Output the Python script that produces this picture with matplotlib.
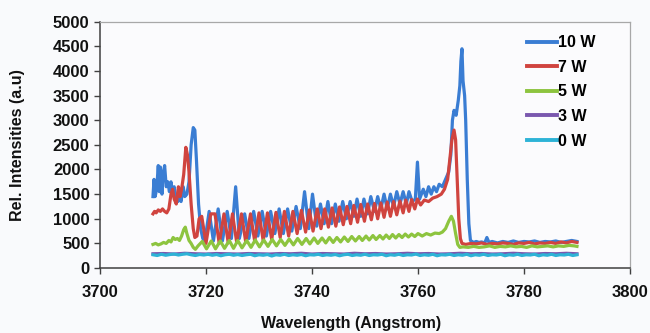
import matplotlib
matplotlib.use("Agg")
import matplotlib.pyplot as plt

# spectra (wavelength in Angstrom, rel. intensity)
spec_10w = [
    (3710.0, 1450), (3710.2, 1800), (3710.4, 1450), (3710.7, 1600), (3711.0, 2080),
    (3711.2, 1550), (3711.4, 2050), (3711.7, 1500), (3711.9, 1900), (3712.2, 2080),
    (3712.5, 1650), (3712.8, 1750), (3713.1, 1550), (3713.4, 1750), (3713.7, 1500),
    (3714.0, 1650), (3714.3, 1400), (3714.7, 1350), (3715.0, 1450), (3715.3, 1350),
    (3715.7, 1650), (3716.0, 1450), (3716.4, 1500), (3716.8, 1750), (3717.2, 2500),
    (3717.6, 2850), (3717.9, 2800), (3718.2, 2200), (3718.6, 1300), (3719.0, 800),
    (3719.4, 600), (3719.8, 550), (3720.6, 1150), (3721.4, 550), (3722.3, 1200),
    (3723.1, 550), (3724.0, 1150), (3724.8, 600), (3725.6, 1650), (3726.3, 600),
    (3727.3, 1100), (3728.1, 600), (3729.0, 1150), (3729.8, 650), (3730.6, 1150),
    (3731.4, 650), (3732.2, 1150), (3733.0, 700), (3733.8, 1200), (3734.6, 700),
    (3735.4, 1200), (3736.2, 750), (3737.0, 1250), (3737.8, 800), (3738.6, 1550),
    (3739.4, 800), (3740.1, 1500), (3740.9, 850), (3741.6, 1300), (3742.3, 900),
    (3743.0, 1350), (3743.7, 900), (3744.4, 1300), (3745.1, 950), (3745.8, 1350),
    (3746.5, 1000), (3747.2, 1350), (3747.9, 1050), (3748.5, 1400), (3749.2, 1050),
    (3749.8, 1400), (3750.5, 1100), (3751.1, 1450), (3751.8, 1150), (3752.4, 1450),
    (3753.0, 1200), (3753.6, 1500), (3754.2, 1200), (3754.8, 1500), (3755.4, 1250),
    (3756.0, 1550), (3756.6, 1300), (3757.2, 1550), (3757.8, 1300), (3758.3, 1550),
    (3758.9, 1350), (3759.5, 1400), (3759.9, 2150), (3760.3, 1400), (3761.0, 1600),
    (3761.5, 1450), (3762.0, 1650), (3762.5, 1500), (3763.0, 1650), (3763.5, 1550),
    (3764.0, 1700), (3764.6, 1650), (3765.2, 1800), (3765.8, 1950), (3766.2, 2300),
    (3766.5, 3000), (3766.8, 3200), (3767.2, 3100), (3767.6, 3400), (3767.9, 3700),
    (3768.1, 4200), (3768.3, 4450), (3768.5, 3800), (3768.8, 3500), (3769.0, 3000),
    (3769.3, 1800), (3769.6, 900), (3769.9, 560), (3770.5, 520), (3771.0, 540),
    (3771.5, 520), (3772.0, 530), (3772.6, 510), (3773.0, 620), (3773.4, 520),
    (3774.0, 540), (3775.0, 510), (3776.0, 540), (3777.0, 520), (3778.0, 550),
    (3779.0, 520), (3780.0, 540), (3781.0, 530), (3782.0, 550), (3783.0, 520),
    (3784.0, 540), (3785.0, 530), (3786.0, 550), (3787.0, 520), (3788.0, 540),
    (3789.0, 560), (3790.0, 540),
]

spec_7w = [
    (3710.0, 1100), (3710.3, 1150), (3710.6, 1120), (3711.0, 1180), (3711.4, 1150),
    (3711.8, 1200), (3712.2, 1150), (3712.6, 1120), (3713.0, 1200), (3713.4, 1500),
    (3713.7, 1600), (3714.0, 1400), (3714.4, 1300), (3714.8, 1650), (3715.1, 1450),
    (3715.4, 1600), (3715.8, 1900), (3716.2, 2450), (3716.5, 2300), (3716.8, 1950),
    (3717.2, 1300), (3717.6, 800), (3717.9, 620), (3718.3, 650), (3718.7, 1000),
    (3719.2, 1050), (3720.0, 500), (3720.9, 1100), (3721.7, 1100), (3722.5, 500),
    (3723.4, 1100), (3724.2, 510), (3725.0, 1100), (3725.8, 520), (3726.7, 1100),
    (3727.5, 530), (3728.4, 1100), (3729.2, 540), (3730.0, 1120), (3730.8, 550),
    (3731.6, 1120), (3732.4, 580), (3733.2, 1130), (3734.0, 620), (3734.8, 1150),
    (3735.6, 650), (3736.4, 1150), (3737.2, 700), (3738.0, 1170), (3738.8, 730),
    (3739.5, 1180), (3740.2, 750), (3741.0, 1200), (3741.7, 800), (3742.4, 1200),
    (3743.1, 830), (3743.8, 1220), (3744.5, 850), (3745.2, 1240), (3745.9, 880),
    (3746.6, 1250), (3747.3, 900), (3747.9, 1270), (3748.6, 930), (3749.2, 1290),
    (3749.9, 950), (3750.5, 1300), (3751.2, 980), (3751.8, 1310), (3752.4, 1000),
    (3753.0, 1320), (3753.6, 1030), (3754.2, 1340), (3754.8, 1050), (3755.4, 1350),
    (3756.0, 1080), (3756.6, 1360), (3757.2, 1120), (3757.7, 1380), (3758.3, 1150),
    (3758.8, 1390), (3759.4, 1200), (3759.9, 1400), (3760.5, 1280), (3761.2, 1380),
    (3762.0, 1350), (3762.8, 1420), (3763.6, 1450), (3764.4, 1500), (3765.0, 1600),
    (3765.6, 1800), (3766.0, 2200), (3766.4, 2600), (3766.8, 2800), (3767.1, 2600),
    (3767.4, 1800), (3767.7, 1000), (3768.0, 600), (3768.3, 500), (3769.0, 480),
    (3770.0, 500), (3771.0, 490), (3772.0, 510), (3773.0, 480), (3774.0, 500),
    (3775.0, 490), (3776.0, 510), (3777.0, 500), (3778.0, 480), (3779.0, 510),
    (3780.0, 500), (3781.0, 520), (3782.0, 490), (3783.0, 510), (3784.0, 500),
    (3785.0, 520), (3786.0, 500), (3787.0, 530), (3788.0, 510), (3789.0, 540),
    (3790.0, 520),
]

spec_5w = [
    (3710.0, 480), (3710.5, 500), (3711.0, 470), (3711.5, 490), (3712.0, 520),
    (3712.5, 500), (3713.0, 560), (3713.4, 530), (3713.8, 620), (3714.2, 580),
    (3714.6, 600), (3715.0, 560), (3715.4, 650), (3715.8, 780), (3716.1, 830),
    (3716.4, 700), (3716.8, 560), (3717.2, 500), (3717.6, 420), (3718.0, 380),
    (3718.5, 450), (3719.3, 540), (3720.1, 390), (3721.0, 550), (3721.8, 390),
    (3722.7, 550), (3723.5, 400), (3724.4, 560), (3725.2, 400), (3726.0, 560),
    (3726.8, 410), (3727.7, 560), (3728.5, 420), (3729.3, 570), (3730.1, 430),
    (3730.9, 570), (3731.7, 440), (3732.5, 580), (3733.3, 450), (3734.1, 580),
    (3734.9, 460), (3735.7, 590), (3736.5, 470), (3737.3, 600), (3738.1, 480),
    (3738.9, 600), (3739.6, 490), (3740.4, 610), (3741.1, 500), (3741.9, 610),
    (3742.6, 510), (3743.3, 620), (3744.0, 520), (3744.7, 620), (3745.4, 530),
    (3746.1, 630), (3746.8, 540), (3747.5, 640), (3748.2, 550), (3748.9, 640),
    (3749.5, 560), (3750.2, 650), (3750.8, 570), (3751.5, 660), (3752.1, 580),
    (3752.8, 660), (3753.4, 590), (3754.0, 670), (3754.6, 600), (3755.2, 680),
    (3755.8, 610), (3756.4, 680), (3757.0, 620), (3757.6, 690), (3758.2, 630),
    (3758.8, 690), (3759.4, 640), (3760.0, 700), (3760.8, 650), (3761.6, 700),
    (3762.4, 670), (3763.2, 710), (3764.0, 700), (3764.6, 730), (3765.2, 800),
    (3765.8, 950), (3766.3, 1050), (3766.7, 950), (3767.1, 700), (3767.5, 480),
    (3767.9, 420), (3768.5, 430), (3769.5, 420), (3770.5, 440), (3771.5, 420),
    (3772.5, 430), (3773.5, 450), (3774.5, 420), (3775.5, 440), (3776.5, 430),
    (3777.5, 450), (3778.5, 430), (3779.5, 440), (3780.5, 420), (3781.5, 450),
    (3782.5, 430), (3783.5, 440), (3784.5, 450), (3785.5, 430), (3786.5, 450),
    (3787.5, 440), (3788.5, 460), (3789.5, 450), (3790.0, 440),
]

spec_3w = [
    (3710, 290), (3712, 295), (3714, 285), (3716, 300), (3718, 290), (3720, 285),
    (3722, 295), (3724, 290), (3726, 285), (3728, 295), (3730, 290), (3732, 285),
    (3734, 295), (3736, 290), (3738, 300), (3740, 285), (3742, 295), (3744, 290),
    (3746, 285), (3748, 300), (3750, 290), (3752, 295), (3754, 285), (3756, 290),
    (3758, 300), (3760, 290), (3762, 295), (3764, 285), (3766, 290), (3768, 300),
    (3770, 290), (3772, 295), (3774, 285), (3776, 290), (3778, 300), (3780, 290),
    (3782, 285), (3784, 295), (3786, 290), (3788, 300), (3790, 290),
]

spec_0w = [
    (3710.0, 270), (3710.8, 255), (3711.6, 280), (3712.4, 260), (3713.2, 275),
    (3714.0, 285), (3714.8, 265), (3715.6, 280), (3716.4, 290), (3717.2, 270),
    (3718.0, 255), (3718.8, 275), (3719.6, 265), (3720.4, 280), (3721.2, 260),
    (3722.0, 275), (3722.8, 250), (3723.6, 270), (3724.4, 280), (3725.2, 260),
    (3726.0, 275), (3726.8, 255), (3727.6, 270), (3728.4, 280), (3729.2, 250),
    (3730.0, 270), (3730.8, 260), (3731.6, 275), (3732.4, 245), (3733.2, 270),
    (3734.0, 260), (3734.8, 280), (3735.6, 255), (3736.4, 270), (3737.2, 260),
    (3738.0, 275), (3738.8, 250), (3739.6, 270), (3740.4, 265), (3741.2, 280),
    (3742.0, 255), (3742.8, 270), (3743.6, 260), (3744.4, 275), (3745.2, 250),
    (3746.0, 270), (3746.8, 280), (3747.6, 255), (3748.4, 270), (3749.2, 260),
    (3750.0, 280), (3750.8, 255), (3751.6, 270), (3752.4, 265), (3753.2, 280),
    (3754.0, 250), (3754.8, 270), (3755.6, 260), (3756.4, 280), (3757.2, 255),
    (3758.0, 270), (3758.8, 265), (3759.6, 285), (3760.4, 255), (3761.2, 270),
    (3762.0, 260), (3762.8, 280), (3763.6, 250), (3764.4, 270), (3765.2, 265),
    (3766.0, 280), (3766.8, 255), (3767.6, 270), (3768.4, 260), (3769.2, 280),
    (3770.0, 250), (3770.8, 270), (3771.6, 260), (3772.4, 280), (3773.2, 255),
    (3774.0, 270), (3774.8, 265), (3775.6, 280), (3776.4, 250), (3777.2, 270),
    (3778.0, 260), (3778.8, 280), (3779.6, 255), (3780.4, 270), (3781.2, 265),
    (3782.0, 280), (3782.8, 250), (3783.6, 270), (3784.4, 260), (3785.2, 280),
    (3786.0, 255), (3786.8, 270), (3787.6, 265), (3788.4, 280), (3789.2, 255),
    (3790.0, 270),
]

labels = ["10 W", "7 W", "5 W", "3 W", "0 W"]
colors = ["#3A7DD3", "#D0443F", "#8DC43F", "#7A58AE", "#2DB3D6"]
series = [spec_10w, spec_7w, spec_5w, spec_3w, spec_0w]

x_ticks = [3700, 3720, 3740, 3760, 3780, 3800]
y_ticks = [0, 500, 1000, 1500, 2000, 2500, 3000, 3500, 4000, 4500, 5000]

plt.rcParams['font.family'] = ['Liberation Sans', 'DejaVu Sans']
plt.rcParams['font.weight'] = 'bold'

fig = plt.figure(figsize=(6.5, 3.33), dpi=100, facecolor="#f9fafc")
ax = fig.add_axes([0.1538, 0.195, 0.8154, 0.740])
ax.set_facecolor("#fbfbfd")

for data, lab, col in zip(series, labels, colors):
    xs = [d[0] for d in data]
    ys = [d[1] for d in data]
    ax.plot(xs, ys, color=col, lw=2.3, label=lab, solid_joinstyle="round")

ax.set_xlim(3700, 3800)
ax.set_ylim(0, 5000)
ax.set_xticks(x_ticks)
ax.set_yticks(y_ticks)
ax.tick_params(axis="both", direction="out", length=4, width=1, colors="#404040",
               labelcolor="#111111", labelsize=12)
ax.tick_params(axis="x", pad=8)
ax.tick_params(axis="y", pad=3.5)
for lbl in ax.get_xticklabels() + ax.get_yticklabels():
    lbl.set_fontweight("bold")

for side in ["left", "bottom"]:
    ax.spines[side].set_color("#404040")
    ax.spines[side].set_linewidth(1.1)
for side in ["top", "right"]:
    ax.spines[side].set_color("#a8a8a8")
    ax.spines[side].set_linewidth(0.9)

fig.text(0.540, 0.030, "Wavelength (Angstrom)", ha="center", va="center",
         fontsize=11.5, fontweight="bold", color="#111111")
fig.text(0.027, 0.565, "Rel. Intensities (a.u)", ha="center", va="center",
         rotation=90, fontsize=11.5, fontweight="bold", color="#111111")

leg = ax.legend(loc="upper left", bbox_to_anchor=(0.806, 0.945), frameon=False,
                borderpad=0, borderaxespad=0, handlelength=1.85, handletextpad=0.1,
                labelspacing=0.6, prop={"weight": "bold", "size": 11.5})
for h in leg.get_lines():
    h.set_linewidth(2.8)

fig.savefig("out.png", dpi=100, facecolor=fig.get_facecolor())
